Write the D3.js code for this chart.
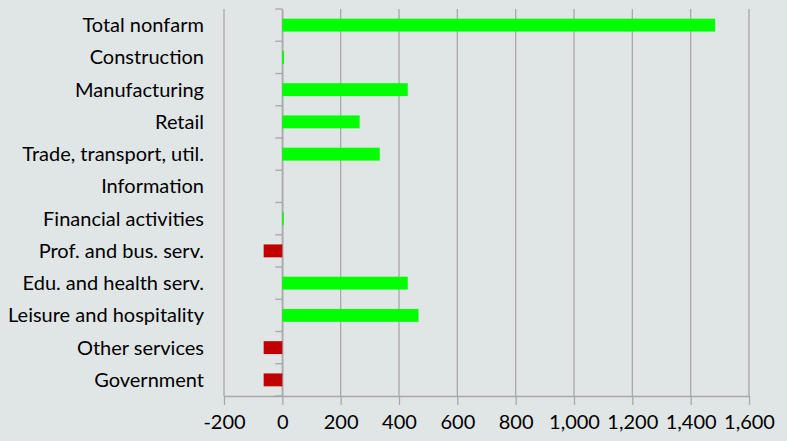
<!DOCTYPE html>
<html><head><meta charset="utf-8">
<script src="https://cdn.jsdelivr.net/npm/d3@7"></script>
<style>body{margin:0;background:#e0e6e6;} svg{display:block;}</style>
</head><body>
<svg id="c" width="787" height="441"></svg>
<script>
const categories = ["Total nonfarm","Construction","Manufacturing","Retail","Trade, transport, util.","Information","Financial activities","Prof. and bus. serv.","Edu. and health serv.","Leisure and hospitality","Other services","Government"];
const values = [1484, 6, 430, 265, 334, 0, 5, -64, 430, 467, -64, -64];
const tickValues = [-200,0,200,400,600,800,1000,1200,1400,1600];

const svg = d3.select("#c");
const W = 787, H = 441;
svg.append("rect").attr("width",W).attr("height",H).attr("fill","#e0e6e6");
const m = {left:224, right:787-749, top:9, bottom:441-396};
const x = d3.scaleLinear().domain([-200,1600]).range([m.left, W-m.right]);
const y = d3.scaleBand().domain(categories).range([m.top, H-m.bottom]).paddingInner(0.6).paddingOuter(0.3);
const yb = d3.scaleBand().domain(categories).range([m.top, H-m.bottom]);
const font = "Lato, 'Open Sans', sans-serif";
const fmt = d => d3.format(",")(d).replace("\u2212","-");

// gridlines
svg.append("g").selectAll("line").data(tickValues).join("line")
  .attr("x1",d=>x(d)).attr("x2",d=>x(d)).attr("y1",m.top).attr("y2",H-m.bottom)
  .attr("stroke","#a8a8a8").attr("stroke-width",1.3);

// x axis
const xa = svg.append("g").attr("transform",`translate(0,${H-m.bottom})`)
  .call(d3.axisBottom(x).tickValues(tickValues).tickSize(9).tickSizeOuter(0).tickFormat(fmt));
xa.select(".domain").attr("stroke","#a8a8a8").attr("stroke-width",1.3);
xa.selectAll(".tick line").attr("stroke","#a8a8a8").attr("stroke-width",1.3);
xa.selectAll("text").attr("font-family",font).attr("font-size",20).attr("fill","#000").attr("dy","1.05em");

// category axis at zero
const ya = svg.append("g").attr("transform",`translate(${x(0)},0)`)
  .call(d3.axisLeft(yb).tickSize(0).tickFormat(""));
ya.select(".domain").attr("stroke","#a8a8a8").attr("stroke-width",1.3);
const bounds = categories.map(c=>yb(c)).concat([H-m.bottom]);
svg.append("g").selectAll("line").data(bounds).join("line")
  .attr("x1",x(0)-7).attr("x2",x(0)).attr("y1",d=>d).attr("y2",d=>d)
  .attr("stroke","#a8a8a8").attr("stroke-width",1.3);

// bars
svg.append("g").selectAll("rect").data(categories).join("rect")
  .attr("x",(d,i)=>x(Math.min(0,values[i])))
  .attr("width",(d,i)=>Math.abs(x(values[i])-x(0)))
  .attr("y",d=>y(d)).attr("height",y.bandwidth())
  .attr("fill",(d,i)=>values[i]<0?"#c00000":"#00ff00");

// labels
svg.append("g").selectAll("text").data(categories).join("text")
  .attr("x",204).attr("y",d=>yb(d)+yb.bandwidth()/2).attr("dy","0.35em")
  .attr("text-anchor","end").attr("font-family",font).attr("font-size",20).attr("fill","#000")
  .text(d=>d);
</script>
</body></html>
